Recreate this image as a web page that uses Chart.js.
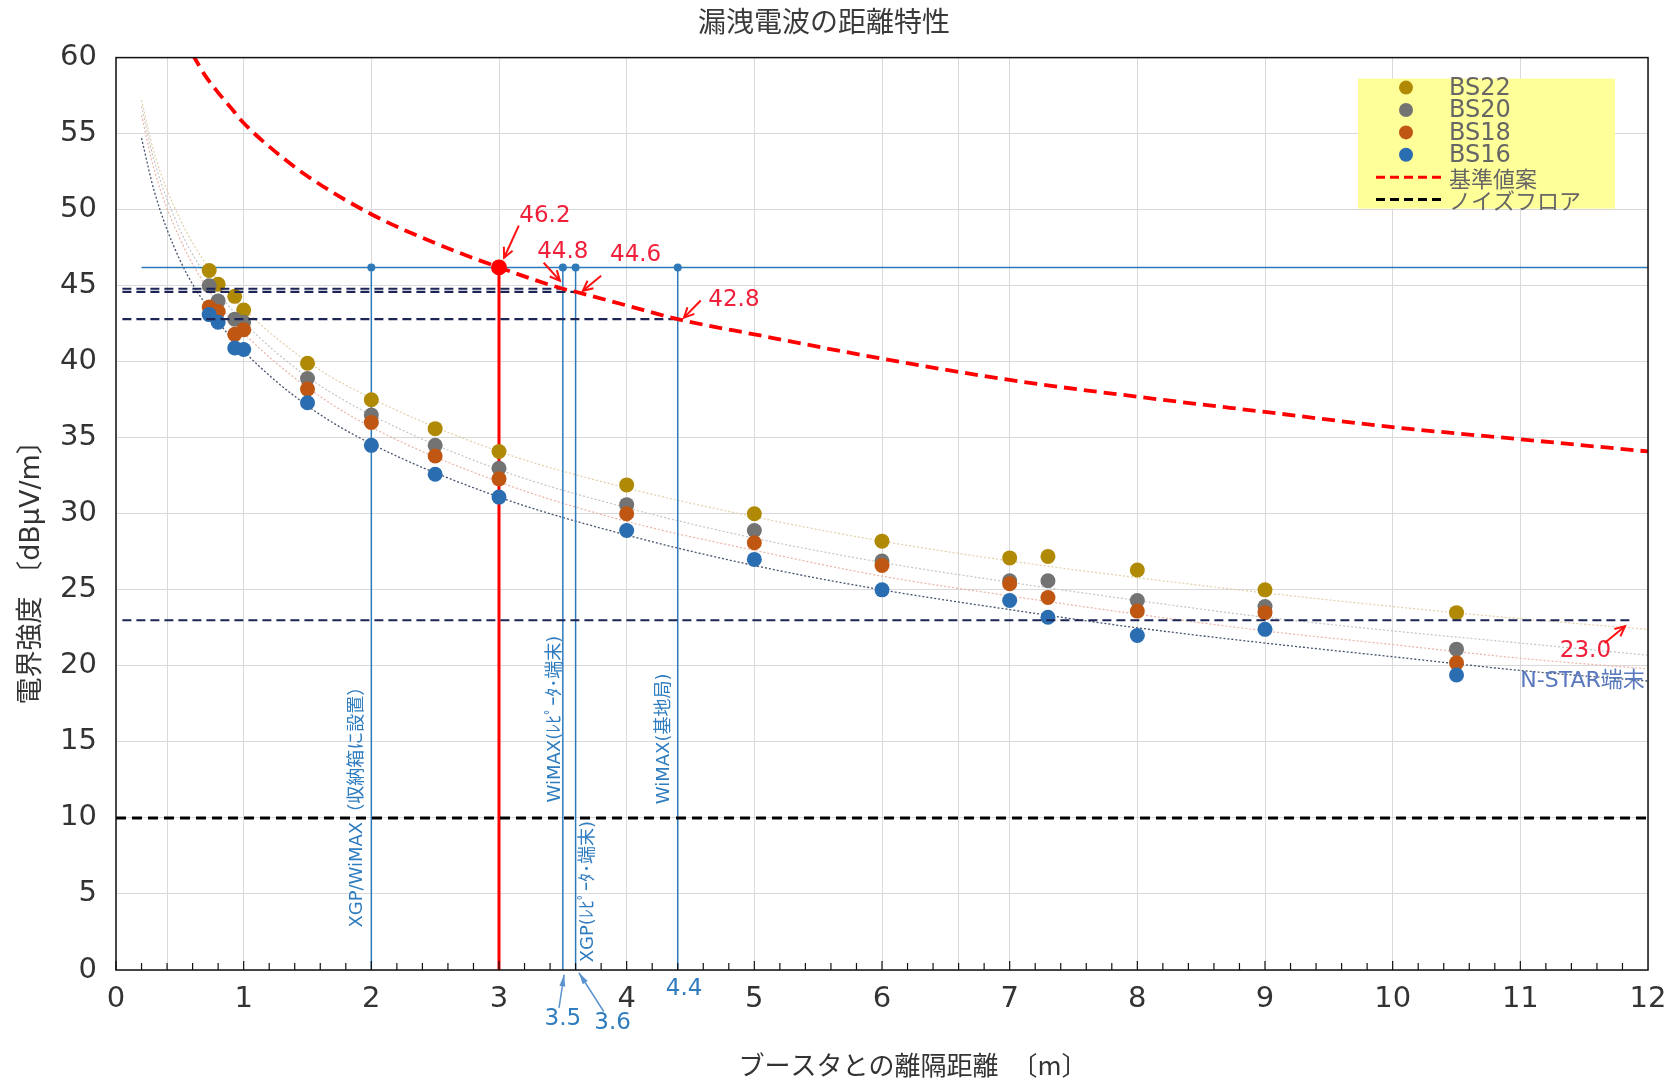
<!DOCTYPE html>
<html lang="ja">
<head>
<meta charset="utf-8">
<title>漏洩電波の距離特性</title>
<script src="https://cdn.jsdelivr.net/npm/chart.js@4.4.1/dist/chart.umd.min.js"></script>
<style>
  html, body { margin: 0; padding: 0; background: #fff; }
  #wrap { width: 1670px; height: 1081px; }
</style>
</head>
<body>
<div id="wrap"><canvas id="leakChart"></canvas></div>
<script>
// ── DATA ───────────────────────────────────────────────
const distX = [0.73, 0.8, 0.93, 1, 1.5, 2, 2.5, 3, 4, 5, 6, 7, 7.3, 8, 9, 10.5];
const bs22 = [46.0, 45.1, 44.3, 43.4, 39.9, 37.5, 35.6, 34.1, 31.9, 30.0, 28.2, 27.1, 27.2, 26.3, 25.0, 23.5];
const bs20 = [45.0, 44.0, 42.8, 42.6, 38.9, 36.5, 34.5, 33.0, 30.6, 28.9, 26.9, 25.6, 25.6, 24.3, 23.9, 21.1];
const bs18 = [43.6, 43.3, 41.8, 42.1, 38.2, 36.0, 33.8, 32.3, 30.0, 28.1, 26.6, 25.4, 24.5, 23.6, 23.5, 20.2];
const bs16 = [43.1, 42.6, 40.9, 40.8, 37.3, 34.5, 32.6, 31.1, 28.9, 27.0, 25.0, 24.3, 23.2, 22.0, 22.4, 19.4];

// faint trend lines, read at these distances
const trendX  = [0.2, 0.3, 0.5, 0.75, 1, 1.5, 2, 3, 4, 5, 6, 7, 8, 9, 10, 11, 12];
const trend22 = [57.2, 53.7, 49.4, 45.9, 43.5, 40.0, 37.6, 34.1, 31.7, 29.8, 28.2, 26.9, 25.8, 24.8, 23.9, 23.1, 22.4];
const trend20 = [56.8, 53.2, 48.7, 45.1, 42.6, 39.0, 36.5, 32.9, 30.4, 28.4, 26.8, 25.5, 24.3, 23.2, 22.3, 21.5, 20.7];
const trend18 = [56.2, 52.6, 48.1, 44.4, 41.9, 38.3, 35.7, 32.1, 29.5, 27.6, 25.9, 24.6, 23.4, 22.3, 21.4, 20.5, 19.8];
const trend16 = [54.7, 51.2, 46.7, 43.2, 40.7, 37.1, 34.6, 31.1, 28.6, 26.6, 25.0, 23.7, 22.5, 21.5, 20.6, 19.7, 19.0];

// 基準値案 (dashed red)
const limitX = [0.6, 0.7, 0.8, 0.9, 1, 1.25, 1.5, 2, 2.5, 3, 3.5, 3.6, 4, 4.4, 5, 6, 7, 8, 9, 10, 11, 12];
const limitY = [60.2, 58.8, 57.7, 56.7, 55.7, 53.8, 52.2, 49.7, 47.8, 46.2, 44.8, 44.6, 43.7, 42.8, 41.8, 40.2, 38.8, 37.7, 36.7, 35.7, 34.9, 34.1];

const noiseFloor = 10;
const refX = 3, refY = 46.2;
const markX = [2, 3.5, 3.6, 4.4];
const crossX = [3.5, 3.6, 4.4, 11.88];
const crossY = [44.8, 44.6, 42.8, 23.0];
const crossStartX = 0.05;
const refLineX = [0.2, 12];

const xTicks = [0, 1, 2, 3, 4, 5, 6, 7, 8, 9, 10, 11, 12];
const xExtraGrid = [0.4, 6.6];   // two stray gridlines in the original
const yTicks = [0, 5, 10, 15, 20, 25, 30, 35, 40, 45, 50, 55, 60];

// ── STYLE ─────────────────────────────
const C = {
  bs22: '#b08a05', bs20: '#737373', bs18: '#bf5713', bs16: '#2a6db0',
  limit: '#ff0000', navy: '#1c2556', blue: '#2e7ab9', blueTxt: '#2f7cbf'
};
const latin = '"DejaVu Sans", "Noto Sans CJK JP", sans-serif';
const jp = '"Noto Sans CJK JP", sans-serif';

const pts = (xs, ys) => xs.map((x, i) => ({ x, y: ys[i] }));

const scatterSet = (label, ys, color, order) => ({
  label, data: pts(distX, ys), showLine: false, inLegend: 'dot',
  backgroundColor: color, borderColor: color, pointRadius: 7.5, pointBorderWidth: 0, order
});
const lineSet = (data, color, width, dash, order, extra) => Object.assign({
  data, showLine: true, borderColor: color, backgroundColor: color, borderWidth: width,
  borderDash: dash || [], pointRadius: 0, fill: false, order
}, extra || {});
const smooth = { cubicInterpolationMode: 'monotone' };

const datasets = [
  scatterSet('BS22', bs22, C.bs22, 9),
  scatterSet('BS20', bs20, C.bs20, 8),
  scatterSet('BS18', bs18, C.bs18, 7),
  scatterSet('BS16', bs16, C.bs16, 6),
  lineSet(pts(limitX, limitY), C.limit, 3.8, [13, 7], 3, Object.assign({ label: '基準値案', inLegend: 'dash' }, smooth)),
  lineSet([{ x: 0, y: noiseFloor }, { x: 12, y: noiseFloor }], '#000', 3, [10, 6], 4, { label: 'ノイズフロア', inLegend: 'dash' }),
  // trend lines
  lineSet(pts(trendX, trend22), '#e2cfa8', 1.2, [2, 2], 20, smooth),
  lineSet(pts(trendX, trend20), '#c4c4c4', 1.2, [2, 2], 20, smooth),
  lineSet(pts(trendX, trend18), '#eab3a6', 1.2, [2, 2], 20, smooth),
  lineSet(pts(trendX, trend16), '#46536f', 1.3, [2, 2], 19, smooth),
  // reference lines
  lineSet(refLineX.map(x => ({ x, y: refY })), C.blue, 1.5, [], 15),
  ...markX.map(x => lineSet([{ x, y: 0 }, { x, y: refY }], C.blue, 1.5, [], 14)),
  lineSet([{ x: refX, y: 0 }, { x: refX, y: refY }], C.limit, 3, [], 13),
  ...crossX.map((x, i) => lineSet([{ x: crossStartX, y: crossY[i] }, { x, y: crossY[i] }], C.navy, 2.2, [9, 5], 4)),
  { data: markX.map(x => ({ x, y: refY })), showLine: false, pointRadius: 4, pointBorderWidth: 0,
    backgroundColor: C.blue, borderColor: C.blue, order: 2 },
  { data: [{ x: refX, y: refY }], showLine: false, pointRadius: 8, pointBorderWidth: 0,
    backgroundColor: C.limit, borderColor: C.limit, order: 1 }
];

// ── ANNOTATIONS (anchored in data units) ─────────────
const valueNotes = [
  { text: '46.2', at: [3.36, 49.55], from: [3.155, 48.95], to: [3.04, 46.84] },
  { text: '44.8', at: [3.5, 47.2], from: [3.35, 46.51], to: [3.477, 45.33] },
  { text: '44.6', at: [4.07, 47.03], from: [3.8, 45.65], to: [3.657, 44.67] },
  { text: '42.8', at: [4.84, 44.03], from: [4.58, 44.03], to: [4.449, 42.9] },
  { text: '23.0', at: [11.51, 20.97], from: [11.66, 21.5], to: [11.82, 22.6] }
];
const axisNotes = [
  { text: '3.5', at: [3.5, -3.2], from: [3.47, -2.49], to: [3.51, -0.31] },
  { text: '3.6', at: [3.89, -3.46], from: [3.82, -2.73], to: [3.626, -0.18] },
  { text: '4.4', at: [4.45, -1.23] }
];
const sideNotes = [
  { text: 'XGP/WiMAX（収納箱に設置）', x: 2, dx: -14, y: 11.0 },
  { text: 'WiMAX(ﾚﾋﾟｰﾀ･端末)', x: 3.5, dx: -8, y: 16.5 },
  { text: 'XGP(ﾚﾋﾟｰﾀ･端末)', x: 3.6, dx: 13, y: 5.15 },
  { text: 'WiMAX(基地局)', x: 4.4, dx: -13, y: 15.2 }
];

function arrow(ctx, x1, y1, x2, y2, color, w, filled) {
  const a = Math.atan2(y2 - y1, x2 - x1), h = filled ? 12 : 11, s = filled ? 0.25 : 0.45;
  ctx.save();
  ctx.strokeStyle = color; ctx.fillStyle = color; ctx.lineWidth = w;
  ctx.beginPath(); ctx.moveTo(x1, y1); ctx.lineTo(x2, y2); ctx.stroke();
  ctx.beginPath();
  ctx.moveTo(x2 - h * Math.cos(a - s), y2 - h * Math.sin(a - s));
  ctx.lineTo(x2, y2);
  ctx.lineTo(x2 - h * Math.cos(a + s), y2 - h * Math.sin(a + s));
  filled ? (ctx.closePath(), ctx.fill()) : ctx.stroke();
  ctx.restore();
}

const decorations = {
  id: 'decorations',
  afterDatasetsDraw(chart) {
    const { ctx, chartArea: a, scales: { x, y } } = chart;
    const P = (v) => [x.getPixelForValue(v[0]), y.getPixelForValue(v[1])];
    ctx.save();

    // frame + inner ticks along bottom axis
    ctx.strokeStyle = '#111'; ctx.lineWidth = 1.5;
    ctx.strokeRect(a.left, a.top, a.right - a.left, a.bottom - a.top);
    ctx.lineWidth = 1.2;
    for (let i = 0; i < 60; i++) {
      const px = x.getPixelForValue(i / 5);
      ctx.beginPath(); ctx.moveTo(px, a.bottom); ctx.lineTo(px, a.bottom - (i % 5 ? 7 : 9)); ctx.stroke();
    }

    // red value callouts
    ctx.font = '23px ' + latin; ctx.textAlign = 'center'; ctx.textBaseline = 'middle';
    valueNotes.forEach(n => {
      const [tx, ty] = P(n.at);
      ctx.fillStyle = '#f0203a'; ctx.fillText(n.text, tx, ty);
      const [x1, y1] = P(n.from), [x2, y2] = P(n.to);
      arrow(ctx, x1, y1, x2, y2, '#ff1010', 2, false);
    });

    // blue distance callouts under the axis
    ctx.font = '23px ' + latin;
    axisNotes.forEach(n => {
      const [tx, ty] = P(n.at);
      ctx.fillStyle = C.blueTxt; ctx.fillText(n.text, tx, ty);
      if (n.from) {
        const [x1, y1] = P(n.from), [x2, y2] = P(n.to);
        arrow(ctx, x1, y1, x2, y2, '#5b93cf', 1.5, true);
      }
    });

    // vertical labels beside the blue lines
    ctx.font = '18px ' + latin; ctx.fillStyle = C.blueTxt;
    sideNotes.forEach(n => {
      ctx.save();
      ctx.translate(x.getPixelForValue(n.x) + n.dx, y.getPixelForValue(n.y));
      ctx.rotate(-Math.PI / 2);
      ctx.fillText(n.text, 0, 0);
      ctx.restore();
    });

    // N-STAR label on the blue trend end
    ctx.font = '22px ' + latin; ctx.textAlign = 'left'; ctx.fillStyle = '#5877bd';
    ctx.fillText('N-STAR端末', x.getPixelForValue(11.0), y.getPixelForValue(19.0));

    // axis titles
    ctx.fillStyle = '#333'; ctx.textAlign = 'center';
    ctx.font = '26px ' + jp;
    ctx.fillText('ブースタとの離隔距離　〔m〕', (a.left + a.right) / 2 + 31, a.bottom + 95);
    ctx.save();
    ctx.translate(32, (a.top + a.bottom) / 2 + 52);
    ctx.rotate(-Math.PI / 2);
    ctx.font = '27px ' + latin;
    ctx.fillText('電界強度 〔dBμV/m〕', 0, 0);
    ctx.restore();

    // legend box
    const items = chart.data.datasets.filter(d => d.inLegend);
    const bx = a.right - 290, by = a.top + 21, bw = 257, bh = 130, row = 22.4;
    ctx.fillStyle = '#ffff99'; ctx.fillRect(bx, by, bw, bh);
    ctx.textAlign = 'left';
    items.forEach((d, i) => {
      const ry = by + 9 + i * row;
      if (d.inLegend === 'dot') {
        ctx.fillStyle = d.backgroundColor;
        ctx.beginPath(); ctx.arc(bx + 48, ry, 7, 0, Math.PI * 2); ctx.fill();
      } else {
        ctx.strokeStyle = d.borderColor; ctx.lineWidth = 3; ctx.setLineDash([9, 5]);
        ctx.beginPath(); ctx.moveTo(bx + 18, ry); ctx.lineTo(bx + 87, ry); ctx.stroke();
        ctx.setLineDash([]);
      }
      ctx.fillStyle = '#666';
      ctx.font = (d.inLegend === 'dot' ? '24px ' + latin : '22px ' + jp);
      ctx.fillText(d.label, bx + 91, ry + 1);
    });

    ctx.restore();
  }
};

new Chart(document.getElementById('leakChart'), {
  type: 'scatter',
  data: { datasets },
  options: {
    responsive: true,
    maintainAspectRatio: false,
    animation: false,
    events: [],
    layout: { padding: { left: 0, right: 22, top: 0, bottom: 0 } },
    plugins: {
      legend: { display: false },
      tooltip: { enabled: false },
      title: {
        display: true, text: '漏洩電波の距離特性', color: '#3a3a3a',
        font: { family: jp, size: 28, weight: 'normal' }, padding: { top: 5, bottom: 19 }
      }
    },
    scales: {
      x: {
        type: 'linear', min: 0, max: 12,
        afterFit: s => { s.height = 111; },
        afterBuildTicks: s => { s.ticks = xTicks.concat(xExtraGrid).map(v => ({ value: v })); },
        grid: { color: '#d9d9d9', drawTicks: false },
        border: { display: false },
        ticks: {
          padding: 12, color: '#333', font: { family: latin, size: 29 }, maxRotation: 0,
          callback: v => (xTicks.includes(v) ? v : '')
        }
      },
      y: {
        min: 0, max: 60,
        afterFit: s => { s.width = 116; },
        afterBuildTicks: s => { s.ticks = yTicks.map(v => ({ value: v })); },
        grid: { color: '#d9d9d9', drawTicks: false },
        border: { display: false },
        ticks: { padding: 19, color: '#333', font: { family: latin, size: 29 } }
      }
    }
  },
  plugins: [decorations]
});
</script>
</body>
</html>
